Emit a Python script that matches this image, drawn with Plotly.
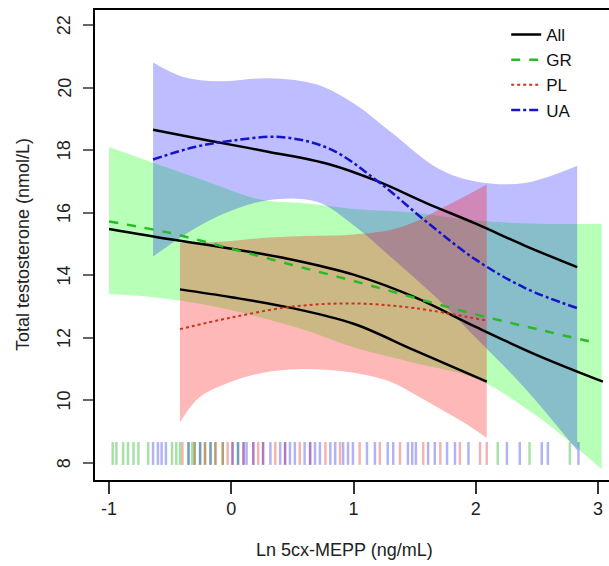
import plotly.graph_objects as go

# ---------------- data ----------------
# Confidence bands
ua_band_x = [-0.64, -0.4, -0.1, 0.3, 0.7, 1.0, 1.3, 1.7, 2.0, 2.4, 2.83]
ua_band_hi = [20.8, 20.35, 20.2, 20.3, 20.1, 19.5, 18.6, 17.4, 17.0, 16.95, 17.5]
ua_band_lo = [14.6, 15.25, 15.9, 16.4, 16.35, 15.6, 14.6, 13.2, 12.0, 10.4, 8.4]

gr_band_x = [-1.0, -0.64, -0.2, 0.24, 0.6, 1.0, 1.5, 2.0, 2.5, 3.03]
gr_band_hi = [18.1, 17.6, 17.0, 16.42, 16.3, 16.12, 16.0, 15.75, 15.65, 15.65]
gr_band_lo = [13.4, 13.3, 13.05, 12.65, 12.25, 11.7, 11.2, 10.7, 9.5, 7.8]

pl_band_x = [-0.42, -0.26, 0.0, 0.28, 0.55, 0.97, 1.3, 1.5, 1.7, 1.9, 2.09]
pl_band_hi = [15.03, 15.05, 15.1, 15.2, 15.25, 15.3, 15.45, 15.7, 16.1, 16.5, 16.9]
pl_band_lo = [9.3, 10.1, 10.6, 10.9, 11.0, 10.9, 10.6, 10.2, 9.75, 9.3, 8.8]

# Group fits
ua_x = [-0.64, -0.3, 0.0, 0.4, 0.8, 1.2, 1.6, 2.0, 2.4, 2.83]
ua_y = [17.7, 18.1, 18.3, 18.42, 18.05, 17.0, 15.7, 14.5, 13.6, 12.95]

gr_x = [-1.0, -0.5, 0.0, 0.5, 1.0, 1.5, 2.0, 2.5, 2.99]
gr_y = [15.72, 15.35, 14.85, 14.33, 13.82, 13.28, 12.75, 12.28, 11.83]

pl_x = [-0.42, 0.0, 0.5, 1.0, 1.5, 2.09]
pl_y = [12.28, 12.65, 13.0, 13.1, 12.95, 12.55]

# "All" fits evaluated over each group's range
all_ua_x = [-0.64, -0.2, 0.3, 0.8, 1.2, 1.6, 2.0, 2.4, 2.83]
all_ua_y = [18.65, 18.32, 17.95, 17.55, 17.0, 16.3, 15.65, 14.95, 14.26]
all_gr_x = [-1.0, -0.5, 0.0, 0.5, 1.0, 1.5, 2.0, 2.5, 3.04]
all_gr_y = [15.48, 15.15, 14.85, 14.5, 14.02, 13.3, 12.35, 11.45, 10.6]
all_pl_x = [-0.42, 0.0, 0.5, 1.0, 1.5, 2.09]
all_pl_y = [13.55, 13.3, 12.95, 12.45, 11.6, 10.6]

# Rug (observed exposure values by group)
rug_gr = [-0.97, -0.94, -0.885, -0.845, -0.80, -0.76, -0.68, -0.485, -0.45, -0.42, -0.35,
          -0.32, -0.30, -0.255, -0.215, -0.17, -0.13, -0.07, 0.055, 2.18, 2.44, 2.77]
rug_pl = [-0.40, -0.30, -0.215, -0.13, -0.07, -0.03, 0.01, 0.10, 0.18, 0.22, 0.26, 0.36, 0.44,
          0.56, 0.645, 0.77, 0.89, 1.05, 1.215, 1.38, 1.57, 1.71, 1.87, 2.035, 2.09]
rug_ua = [-0.64, -0.60, -0.57, -0.535, -0.35, -0.255, -0.17, 0.01, 0.055, 0.10, 0.125, 0.18,
          0.26, 0.32, 0.40, 0.44, 0.48, 0.52, 0.60, 0.645, 0.685, 0.725, 0.81, 0.85, 0.915,
          0.955, 0.995, 1.11, 1.175, 1.28, 1.325, 1.445, 1.48, 1.51, 1.61, 1.665, 1.765,
          1.83, 1.94, 2.255, 2.36, 2.54, 2.59, 2.84]
rug_lo, rug_hi = 7.94, 8.67

x_ticks = [-1, 0, 1, 2, 3]
y_ticks = [8, 10, 12, 14, 16, 18, 20, 22]

FONT = "Liberation Sans, Arial, sans-serif"

fig = go.Figure()


def add_band(x, lo, hi, color):
    fig.add_trace(go.Scatter(x=x, y=lo, mode="lines", line=dict(width=0, shape="spline"),
                             showlegend=False, hoverinfo="skip"))
    fig.add_trace(go.Scatter(x=x, y=hi, mode="lines", line=dict(width=0, shape="spline"),
                             fill="tonexty", fillcolor=color, showlegend=False, hoverinfo="skip"))


add_band(gr_band_x, gr_band_lo, gr_band_hi, "rgba(0,255,0,0.28)")
add_band(ua_band_x, ua_band_lo, ua_band_hi, "rgba(0,0,255,0.26)")
add_band(pl_band_x, pl_band_lo, pl_band_hi, "rgba(255,0,0,0.28)")


def add_rug(xs, color):
    xx, yy = [], []
    for v in xs:
        xx += [v, v, None]
        yy += [rug_lo, rug_hi, None]
    fig.add_trace(go.Scatter(x=xx, y=yy, mode="lines", line=dict(color=color, width=2.5),
                             showlegend=False, hoverinfo="skip"))


add_rug(rug_gr, "rgba(0,170,0,0.35)")
add_rug(rug_pl, "rgba(220,0,0,0.3)")
add_rug(rug_ua, "rgba(0,0,220,0.3)")

# black "All" lines
for i, (xs, ys) in enumerate([(all_ua_x, all_ua_y), (all_gr_x, all_gr_y), (all_pl_x, all_pl_y)]):
    fig.add_trace(go.Scatter(x=xs, y=ys, mode="lines", name="All", legendgroup="All",
                             showlegend=(i == 0),
                             line=dict(color="black", width=2.5, shape="spline")))

fig.add_trace(go.Scatter(x=gr_x, y=gr_y, mode="lines", name="GR",
                         line=dict(color="rgb(40,185,40)", width=2.5, dash="dash", shape="spline")))
fig.add_trace(go.Scatter(x=pl_x, y=pl_y, mode="lines", name="PL",
                         line=dict(color="rgb(205,50,30)", width=2, dash="dot", shape="spline")))
fig.add_trace(go.Scatter(x=ua_x, y=ua_y, mode="lines", name="UA",
                         line=dict(color="rgb(20,20,200)", width=2.5, dash="dashdot", shape="spline")))

annotations = [
    dict(text="Ln 5cx-MEPP (ng/mL)", xref="paper", yref="paper", x=0.486, y=-0.149,
         xanchor="center", yanchor="middle", showarrow=False, font=dict(size=18)),
    dict(text="Total testosterone (nmol/L)", xref="paper", yref="paper", x=-0.14, y=0.5,
         xanchor="center", yanchor="middle", textangle=-90, showarrow=False,
         font=dict(size=18)),
]
for v in y_ticks:
    annotations.append(dict(text=str(v), xref="paper", yref="y", x=-0.06, y=v,
                            xanchor="center", yanchor="middle", textangle=-90,
                            showarrow=False, font=dict(size=18)))

fig.update_layout(
    width=609, height=566,
    margin=dict(l=95, r=0, t=10, b=86),
    paper_bgcolor="white", plot_bgcolor="white",
    font=dict(family=FONT, size=18, color="#222"),
    showlegend=True,
    legend=dict(x=0.8, y=0.985, xanchor="left", yanchor="top", bgcolor="rgba(0,0,0,0)",
                font=dict(size=17, color="#111"), tracegroupgap=0, itemwidth=30),
    xaxis=dict(range=[-1.115, 3.09], tickvals=x_ticks, ticktext=[str(v) for v in x_ticks],
               ticks="outside", ticklen=12, tickcolor="#333", tickwidth=1.5,
               showline=True, linecolor="black", linewidth=1.5, mirror=True,
               showgrid=False, zeroline=False, tickfont=dict(size=18), automargin=False),
    yaxis=dict(range=[7.457, 22.48], tickvals=y_ticks, showticklabels=False,
               ticks="outside", ticklen=10, tickcolor="#666", tickwidth=1.5,
               showline=True, linecolor="black", linewidth=1.5, mirror=False,
               showgrid=False, zeroline=False, automargin=False),
    annotations=annotations,
)

fig.write_html("out.html", config={"displayModeBar": False})

# remove the browser's default page margin so the figure sits at the window's corner
with open("out.html", "r", encoding="utf-8") as f:
    html = f.read()
html = html.replace("<head>", "<head><style>html,body{margin:0;padding:0;overflow:hidden;}</style>", 1)
with open("out.html", "w", encoding="utf-8") as f:
    f.write(html)
